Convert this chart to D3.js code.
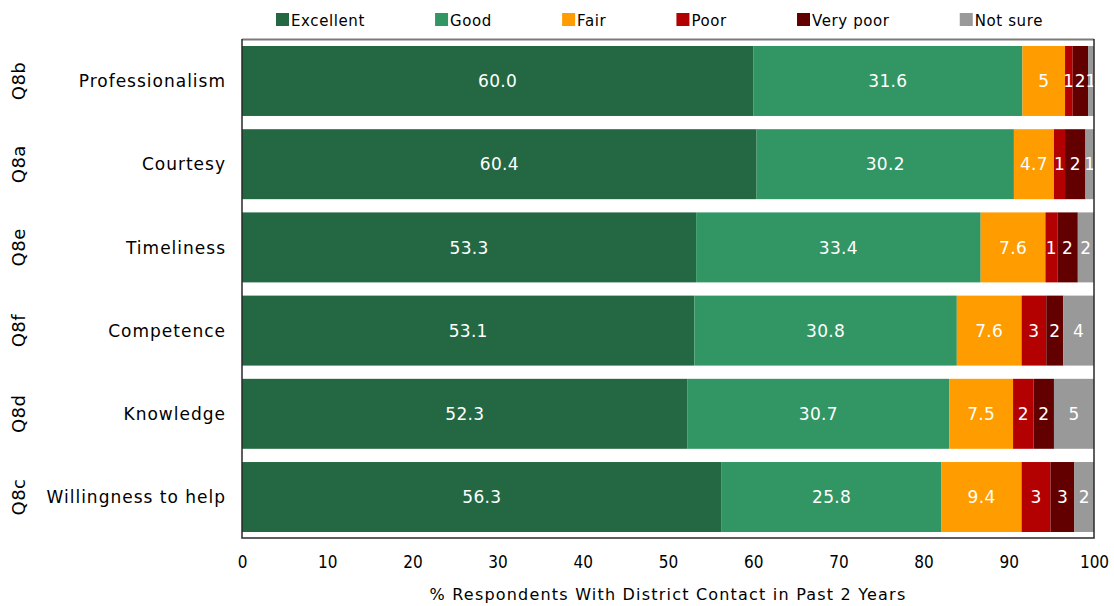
<!DOCTYPE html>
<html>
<head>
<meta charset="utf-8">
<script src="https://cdn.jsdelivr.net/npm/d3@7"></script>
<style>
  html, body { margin: 0; padding: 0; background: #fff; }
  svg { display: block; font-family: "DejaVu Sans", sans-serif; }
</style>
</head>
<body>
<svg id="chart" width="1114" height="606"></svg>
<script>
// Survey items (top to bottom)
const codes = ["Q8b", "Q8a", "Q8e", "Q8f", "Q8d", "Q8c"];
const aspects = ["Professionalism", "Courtesy", "Timeliness", "Competence", "Knowledge", "Willingness to help"];

// Rating categories, in stacking order
const ratings = ["Excellent", "Good", "Fair", "Poor", "Very poor", "Not sure"];
const ratingColors = ["#236843", "#319663", "#ff9c00", "#b30000", "#620000", "#999999"];

// Percent of respondents per rating, one value per item
const excellent = [60.0, 60.4, 53.3, 53.1, 52.3, 56.3];
const good      = [31.6, 30.2, 33.4, 30.8, 30.7, 25.8];
const fair      = [5.0, 4.7, 7.6, 7.6, 7.5, 9.4];
const poor      = [0.9, 1.3, 1.4, 2.9, 2.4, 3.4];
const veryPoor  = [1.8, 2.4, 2.4, 2.0, 2.4, 2.8];
const notSure   = [0.7, 1.0, 1.9, 3.6, 4.7, 2.3];

const xTicks = [0, 10, 20, 30, 40, 50, 60, 70, 80, 90, 100];
const xTitle = "% Respondents With District Contact in Past 2 Years";

// Number format per rating for the in-bar labels
const labelFormats = [".1f", ".1f", ".1~f", ".0f", ".0f", ".0f"];

const seriesValues = [excellent, good, fair, poor, veryPoor, notSure];
const rows = aspects.map((a, i) => {
  const r = { aspect: a, code: codes[i] };
  ratings.forEach((k, j) => { r[k] = seriesValues[j][i]; });
  return r;
});

const svg = d3.select("#chart");
const plot = { left: 242, right: 1094, top: 40, bottom: 538 };

const x = d3.scaleLinear().domain([0, 100]).range([plot.left, plot.right]);
const y = d3.scaleBand().domain(aspects).range([plot.top, plot.bottom])
  .paddingInner(0.159).paddingOuter(0.072);
const color = d3.scaleOrdinal().domain(ratings).range(ratingColors);

const stacked = d3.stack().keys(ratings)(rows);

// Bars
const layers = svg.append("g").selectAll("g").data(stacked).join("g")
  .attr("fill", d => color(d.key));

layers.selectAll("rect").data(d => d).join("rect")
  .attr("x", d => x(d[0]))
  .attr("width", d => x(d[1]) - x(d[0]))
  .attr("y", d => y(d.data.aspect))
  .attr("height", y.bandwidth());

// Value labels inside the segments
layers.each(function(layer, li) {
  const fmt = d3.format(labelFormats[li]);
  d3.select(this).selectAll("text").data(layer).join("text")
    .attr("x", d => (x(d[0]) + x(d[1])) / 2)
    .attr("y", d => y(d.data.aspect) + y.bandwidth() / 2)
    .attr("dy", "0.36em")
    .attr("text-anchor", "middle")
    .attr("fill", "#ffffff")
    .style("font-size", "17px")
    .style("letter-spacing", "0.3px")
    .text(d => fmt(d[1] - d[0]));
});

// Plot frame
const frame = svg.append("g").attr("fill", "none");
frame.append("line")
  .attr("x1", plot.left).attr("x2", plot.right)
  .attr("y1", plot.top - 0.5).attr("y2", plot.top - 0.5)
  .attr("stroke", "#7a7a7a").attr("stroke-width", 2);
frame.append("path")
  .attr("d", `M${plot.left},${plot.top - 1}V${plot.bottom}H${plot.right}V${plot.top - 1}`)
  .attr("stroke", "#2a2a2a").attr("stroke-width", 1.5);

// Item labels
svg.append("g").selectAll("text").data(rows).join("text")
  .attr("x", 226)
  .attr("y", d => y(d.aspect) + y.bandwidth() / 2)
  .attr("dy", "0.36em")
  .attr("text-anchor", "end")
  .attr("fill", "#000")
  .style("font-size", "17px")
  .style("letter-spacing", "1px")
  .text(d => d.aspect);

// Question codes, rotated
svg.append("g").selectAll("text").data(rows).join("text")
  .attr("transform", d => `translate(25,${y(d.aspect) + y.bandwidth() / 2}) rotate(-90)`)
  .attr("text-anchor", "middle")
  .attr("fill", "#000")
  .style("font-size", "18px")
  .style("letter-spacing", "0.5px")
  .text(d => d.code);

// X axis
const xAxis = svg.append("g")
  .attr("transform", `translate(0,${plot.bottom})`)
  .call(d3.axisBottom(x).tickValues(xTicks).tickSize(0).tickPadding(18).tickFormat(d3.format("d")));
xAxis.select(".domain").remove();
xAxis.selectAll("text")
  .attr("fill", "#000")
  .style("font-family", "'DejaVu Sans Condensed', 'DejaVu Sans', sans-serif")
  .style("font-size", "17px");

svg.append("text")
  .attr("x", (plot.left + plot.right) / 2)
  .attr("y", 600)
  .attr("text-anchor", "middle")
  .attr("fill", "#000")
  .style("font-size", "16px")
  .style("letter-spacing", "1.2px")
  .text(xTitle);

// Legend: items spread between fixed start and end
const legend = svg.append("g");
const items = legend.selectAll("g").data(ratings).join("g");
items.append("rect")
  .attr("width", 13).attr("height", 13)
  .attr("y", 13)
  .attr("fill", d => color(d));
items.append("text")
  .attr("x", 15).attr("y", 26)
  .attr("fill", "#000")
  .style("font-size", "15px")
  .style("letter-spacing", "0.6px")
  .text(d => d);

const legendStart = 276, legendEnd = 1043;
const widths = [];
items.each(function() { widths.push(15 + d3.select(this).select("text").node().getComputedTextLength()); });
const gap = (legendEnd - legendStart - d3.sum(widths)) / (ratings.length - 1);
let cursor = legendStart;
items.each(function(d, i) {
  d3.select(this).attr("transform", `translate(${cursor},0)`);
  cursor += widths[i] + gap;
});
</script>
</body>
</html>
